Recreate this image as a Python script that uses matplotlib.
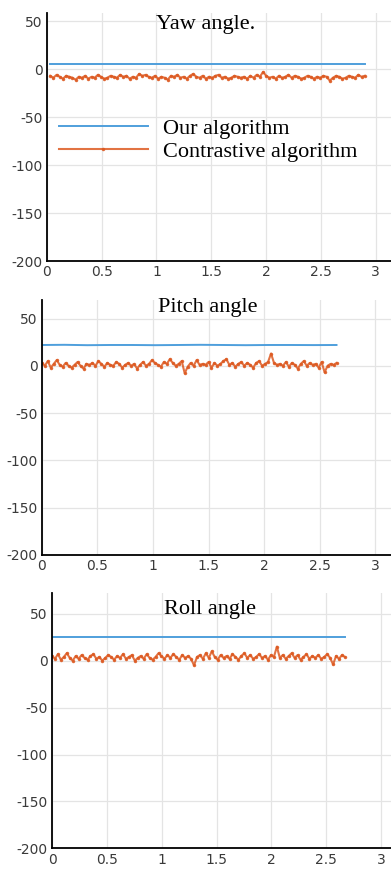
import numpy as np
import matplotlib
matplotlib.use('Agg')
import matplotlib.pyplot as plt

# titles and legend labels
titles = ['Yaw angle.', 'Pitch angle', 'Roll angle']
legend_labels = ['Our algorithm', 'Contrastive algorithm']
xticks = [0, 0.5, 1, 1.5, 2, 2.5, 3]
xtick_labels = ['0', '0.5', '1', '1.5', '2', '2.5', '3']
yticks = [50, 0, -50, -100, -150, -200]
ytick_labels = ['50', '0', '-50', '-100', '-150', '-200']

# time spans of each record (s)
yaw_span = (0.03, 2.9)
pitch_span = (0.0, 2.65)
roll_span = (0.0, 2.67)

# our algorithm (blue), sampled coarsely
yaw_ours = [5, 5, 5, 5, 5, 5, 5, 5, 5, 5, 5, 5]
pitch_ours = [22, 22.2, 21.8, 22, 22, 21.8, 22, 22.2, 22, 21.8, 22, 22, 21.9, 22]
roll_ours = [25, 25, 25, 25, 25, 25, 25, 25, 25, 25, 25, 25]

# contrastive algorithm (orange)
yaw_contrast = [
    -7, -9, -6, -8, -10, -7, -8, -9, -11, -8,
    -9, -7, -10, -8, -9, -6, -8, -10, -9, -7,
    -8, -9, -6, -8, -7, -10, -8, -9, -5, -7,
    -6, -8, -9, -7, -10, -8, -9, -11, -7, -8,
    -6, -9, -8, -10, -7, -5, -8, -9, -7, -10,
    -8, -9, -7, -6, -9, -8, -10, -9, -7, -8,
    -9, -8, -10, -7, -9, -6, -8, -3, -7, -9,
    -8, -10, -7, -9, -8, -6, -9, -7, -8, -10,
    -9, -7, -8, -10, -8, -9, -7, -8, -12, -9,
    -7, -8, -10, -9, -7, -8, -9, -6, -8, -7]
pitch_contrast = [
    3, 0, 5, -2, 2, 6, 1, -1, 3, 0,
    -2, 1, 4, 0, -3, 2, 1, 3, 0, 5,
    2, -1, 3, 1, 0, 4, 2, -2, 1, 3,
    0, 2, -3, 1, 4, 0, 2, 6, 3, 1,
    -1, 4, 2, 7, 3, 0, 2, 5, -8, -1,
    3, 0, 6, 1, 2, 1, 4, -2, 3, 0,
    2, 5, 7, 1, 3, -1, 2, 4, 0, 3,
    1, -2, 3, 5, 0, 2, 4, 13, 3, 1,
    2, 0, 4, -1, 3, 1, -3, 2, 5, 0,
    3, 1, 2, -2, 4, -7, 0, 2, 1, 3]
roll_contrast = [
    5, 2, 7, 1, 4, 8, 3, 0, 5, 2,
    6, 3, 1, 5, 7, 2, 4, 0, 3, 6,
    4, 1, 5, 3, 7, 2, 4, 6, 0, 3,
    5, 2, 7, 3, 1, 4, 8, 5, 2, 6,
    3, 7, 4, 1, 6, 3, 5, 2, -5, 4,
    6, 2, 8, 3, 10, 4, 1, 6, 3, 5,
    2, 7, 4, 1, 5, 8, 3, 6, 2, 4,
    7, 3, 5, 1, 6, 4, 15, 3, 6, 2,
    5, 8, 3, 6, 1, 4, 7, 2, 5, 3,
    6, 2, 4, 7, 3, -4, 5, 2, 6, 4]

blue = '#4f9fdc'
orange = '#dd5a22'

panels = [
    (titles[0], yaw_span, yaw_ours, yaw_contrast, 58.3, 3.14,
     [0.120, 0.700, 0.880, 0.285], (0.46, 0.952)),
    (titles[1], pitch_span, pitch_ours, pitch_contrast, 70, 3.14,
     [0.107, 0.363, 0.893, 0.293], (0.476, 0.97)),
    (titles[2], roll_span, roll_ours, roll_contrast, 72, 3.09,
     [0.133, 0.026, 0.867, 0.293], (0.466, 0.937)),
]

fig = plt.figure(figsize=(3.91, 8.71), dpi=100)

for i, (title, span, ours, contrast, ytop, xmax, pos, tpos) in enumerate(panels):
    ax = fig.add_axes(pos)
    t_ours = np.linspace(span[0], span[1], len(ours))
    t_con = np.linspace(span[0], span[1], len(contrast))
    l1, = ax.plot(t_ours, ours, color=blue, lw=1.4)
    l2, = ax.plot(t_con, contrast, color=orange, lw=1.5, ls='-',
                  marker='.', ms=3, alpha=0.85)

    ax.set_xlim(0, xmax)
    ax.set_ylim(-200, ytop)
    ax.set_xticks(xticks)
    ax.set_xticklabels(xtick_labels)
    ax.set_yticks(yticks)
    ax.set_yticklabels(ytick_labels)
    ax.grid(True, color='#e4e4e4', lw=0.9)
    ax.set_axisbelow(True)
    ax.tick_params(length=0, labelsize=10, labelcolor='#3a3a3a', pad=3)
    for s in ['top', 'right']:
        ax.spines[s].set_visible(False)
    ax.spines['left'].set_linewidth(1.3)
    ax.spines['bottom'].set_linewidth(1.3)

    ax.text(tpos[0], tpos[1], title, transform=ax.transAxes, ha='center',
            va='center', family='Liberation Serif', fontsize=16)

    if i == 0:
        ax.legend([l1, l2], legend_labels, loc='upper left',
                  bbox_to_anchor=(0.035, 0.576), frameon=False,
                  prop={'family': 'Liberation Serif', 'size': 16},
                  handlelength=4.0, handletextpad=0.7, labelspacing=0.1,
                  borderpad=0, borderaxespad=0)

fig.savefig('out.png', dpi=100)
